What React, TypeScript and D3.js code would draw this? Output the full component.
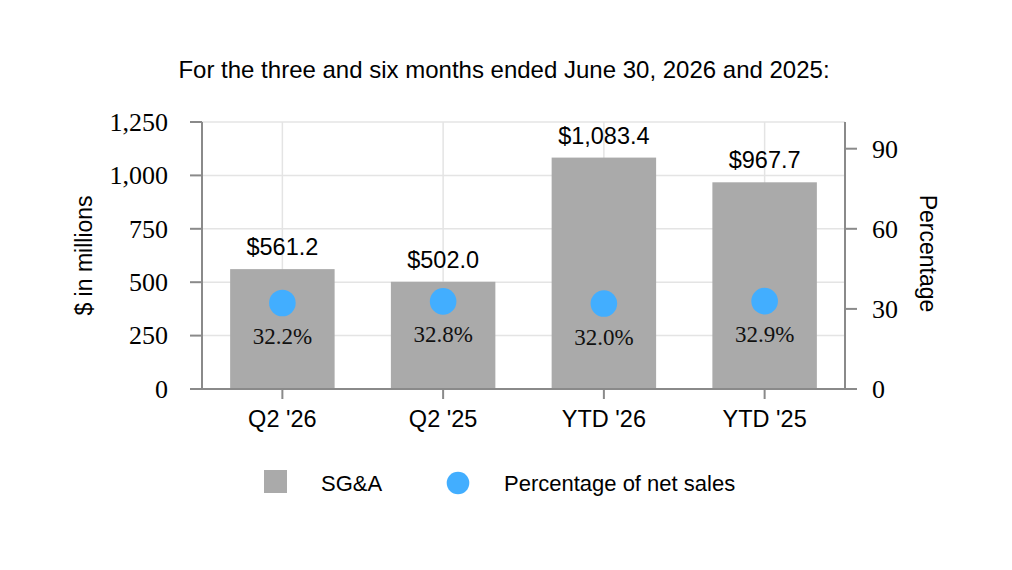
import React from "react";
import * as d3 from "d3";

const categories = ["Q2 '26", "Q2 '25", "YTD '26", "YTD '25"];
const sgaValues = [561.2, 502.0, 1083.4, 967.7];
const sgaLabels = ["$561.2", "$502.0", "$1,083.4", "$967.7"];
const pctValues = [32.2, 32.8, 32.0, 32.9];
const pctLabels = ["32.2%", "32.8%", "32.0%", "32.9%"];
const leftTicks = [0, 250, 500, 750, 1000, 1250];
const rightTicks = [0, 30, 60, 90];

const W = 1012;
const H = 570;
const plot = { left: 202, right: 845, top: 122, bottom: 389 };

const SANS = "'Liberation Sans', Arial, sans-serif";
const SERIF = "'Liberation Serif', 'Times New Roman', serif";
const BAR = "#aaaaaa";
const DOT = "#42aeff";
const AXIS = "#8a8a8a";
const GRID = "#e4e4e4";

const App = () => {
  const x = d3
    .scaleBand<string>()
    .domain(categories)
    .range([plot.left, plot.right])
    .paddingInner(0.35)
    .paddingOuter(0.175);
  const xc = (c: string) => (x(c) ?? 0) + x.bandwidth() / 2;

  const yLeft = d3.scaleLinear().domain([0, 1250]).range([plot.bottom, plot.top]);
  const yRight = d3.scaleLinear().domain([0, 100]).range([plot.bottom, plot.top]);

  const fmt = d3.format(",");

  return (
    <svg width={W} height={H} style={{ position: "absolute", left: 0, top: 0, background: "#fff" }}>
      <rect width={W} height={H} fill="#fff" />
      {/* title */}
      <text x={504} y={78} textAnchor="middle" fontFamily={SANS} fontSize={24} fill="#000">
        For the three and six months ended June 30, 2026 and 2025:
      </text>

      {/* grid */}
      <g>
        {leftTicks.map((t) => (
          <line key={t} x1={plot.left} x2={plot.right} y1={yLeft(t)} y2={yLeft(t)} stroke={GRID} strokeWidth={1.5} />
        ))}
        {categories.map((c) => (
          <line key={c} x1={xc(c)} x2={xc(c)} y1={plot.top} y2={plot.bottom} stroke={GRID} strokeWidth={1.5} />
        ))}
      </g>

      {/* bars */}
      <g>
        {categories.map((c, i) => (
          <rect
            key={c}
            x={x(c)}
            y={yLeft(sgaValues[i])}
            width={x.bandwidth()}
            height={plot.bottom - yLeft(sgaValues[i])}
            fill={BAR}
          />
        ))}
      </g>

      {/* bar labels */}
      <g fontFamily={SANS} fontSize={23.5} textAnchor="middle" fill="#000">
        {categories.map((c, i) => (
          <text key={c} x={xc(c)} y={yLeft(sgaValues[i]) - 14}>
            {sgaLabels[i]}
          </text>
        ))}
      </g>

      {/* percentage dots */}
      <g>
        {categories.map((c, i) => (
          <circle key={c} cx={xc(c)} cy={yRight(pctValues[i])} r={13.3} fill={DOT} />
        ))}
      </g>
      <g fontFamily={SERIF} fontSize={23} textAnchor="middle" fill="#111">
        {categories.map((c, i) => (
          <text key={c} x={xc(c)} y={yRight(pctValues[i]) + 41}>
            {pctLabels[i]}
          </text>
        ))}
      </g>

      {/* axes */}
      <g stroke={AXIS} strokeWidth={2}>
        <line x1={plot.left} x2={plot.left} y1={plot.top} y2={plot.bottom} />
        <line x1={plot.right} x2={plot.right} y1={plot.top} y2={plot.bottom} />
        <line x1={plot.left - 12} x2={plot.right + 12} y1={plot.bottom} y2={plot.bottom} />
        {leftTicks.map((t) => (
          <line key={t} x1={plot.left - 12} x2={plot.left} y1={yLeft(t)} y2={yLeft(t)} />
        ))}
        {rightTicks.map((t) => (
          <line key={t} x1={plot.right} x2={plot.right + 12} y1={yRight(t)} y2={yRight(t)} />
        ))}
        {categories.map((c) => (
          <line key={c} x1={xc(c)} x2={xc(c)} y1={plot.bottom} y2={plot.bottom + 10} />
        ))}
      </g>

      <g fontFamily={SERIF} fontSize={26} fill="#000">
        {leftTicks.map((t) => (
          <text key={t} x={168} y={yLeft(t)} dy="0.34em" textAnchor="end">
            {fmt(t)}
          </text>
        ))}
        {rightTicks.map((t) => (
          <text key={t} x={872} y={yRight(t)} dy="0.34em" textAnchor="start">
            {t}
          </text>
        ))}
      </g>

      <g fontFamily={SANS} fontSize={23.5} fill="#000" textAnchor="middle">
        {categories.map((c) => (
          <text key={c} x={xc(c)} y={427}>
            {c}
          </text>
        ))}
      </g>

      {/* axis titles */}
      <text
        transform={`translate(92,${(plot.top + plot.bottom) / 2}) rotate(-90)`}
        textAnchor="middle"
        fontFamily={SANS}
        fontSize={23}
        fill="#000"
      >
        $ in millions
      </text>
      <text
        transform={`translate(920,${(plot.top + plot.bottom) / 2 - 2}) rotate(90)`}
        textAnchor="middle"
        fontFamily={SANS}
        fontSize={23}
        fill="#000"
      >
        Percentage
      </text>

      {/* legend */}
      <g fontFamily={SANS} fontSize={22} fill="#000">
        <rect x={264} y={470} width={23} height={23} fill={BAR} />
        <text x={321} y={491}>SG&amp;A</text>
        <circle cx={458} cy={483} r={11.3} fill={DOT} />
        <text x={504} y={491}>Percentage of net sales</text>
      </g>
    </svg>
  );
};

export default App;
